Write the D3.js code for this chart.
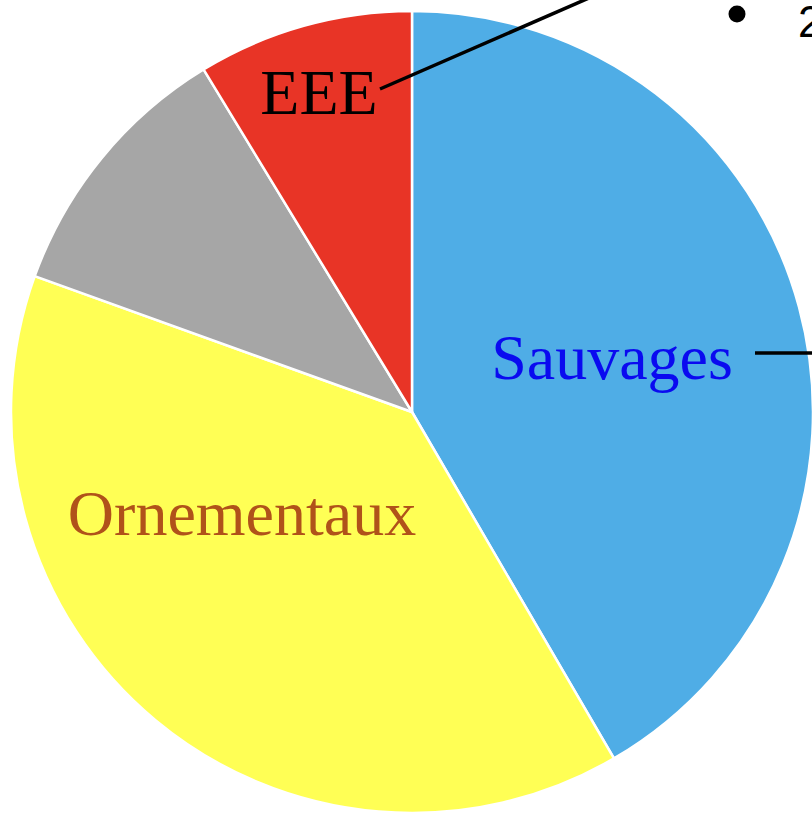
<!DOCTYPE html>
<html><head><meta charset="utf-8">
<script src="https://cdn.jsdelivr.net/npm/d3@7"></script>
<style>html,body{margin:0;padding:0;background:#fff;overflow:hidden}</style>
</head><body>
<svg id="c" width="812" height="815"></svg>
<script>
const categories = ["Sauvages", "Ornementaux", "Autres", "EEE"];
const values = [41.6, 38.9, 10.8, 8.7];
const colors = ["#4FADE6", "#FFFF55", "#A6A6A6", "#E83426"];
const labels = ["Sauvages", "Ornementaux", "", "EEE"];
const labelColors = ["#0A0AF0", "#B0521A", "#000", "#000"];

const svg = d3.select("#c");
const cx = 412, cy = 412, r = 401;
const g = svg.append("g").attr("transform", `translate(${cx},${cy})`);
const pie = d3.pie().sort(null).value(d => d)(values);
const arc = d3.arc().innerRadius(0).outerRadius(r);
g.selectAll("path").data(pie).join("path")
  .attr("d", arc).attr("fill", (d,i) => colors[i])
  .attr("stroke", "#fff").attr("stroke-width", 2.5).attr("stroke-linejoin","round");

const txt = [
  {x: 612, y: 379}, {x: 242, y: 535}, null, {x: 319, y: 114}
];
labels.forEach((l, i) => {
  if (!l) return;
  svg.append("text").attr("x", txt[i].x).attr("y", txt[i].y)
    .attr("text-anchor", "middle")
    .attr("font-family", "Liberation Serif, serif").attr("font-size", 64)
    .attr("fill", labelColors[i]).text(l);
});
// leader lines
svg.append("line").attr("x1", 380).attr("y1", 89).attr("x2", 605).attr("y2", -9)
  .attr("stroke", "#000").attr("stroke-width", 3.5);
svg.append("line").attr("x1", 755).attr("y1", 353).attr("x2", 812).attr("y2", 353)
  .attr("stroke", "#000").attr("stroke-width", 3.5);
// legend fragment (cut off at the right edge, as in the reference)
svg.append("circle").attr("cx", 737).attr("cy", 14).attr("r", 8.5).attr("fill", "#000");
svg.append("text").attr("x", 798).attr("y", 37).attr("font-family", "Liberation Sans, sans-serif")
  .attr("font-size", 44).attr("fill", "#000").text("2");
</script>
</body></html>
